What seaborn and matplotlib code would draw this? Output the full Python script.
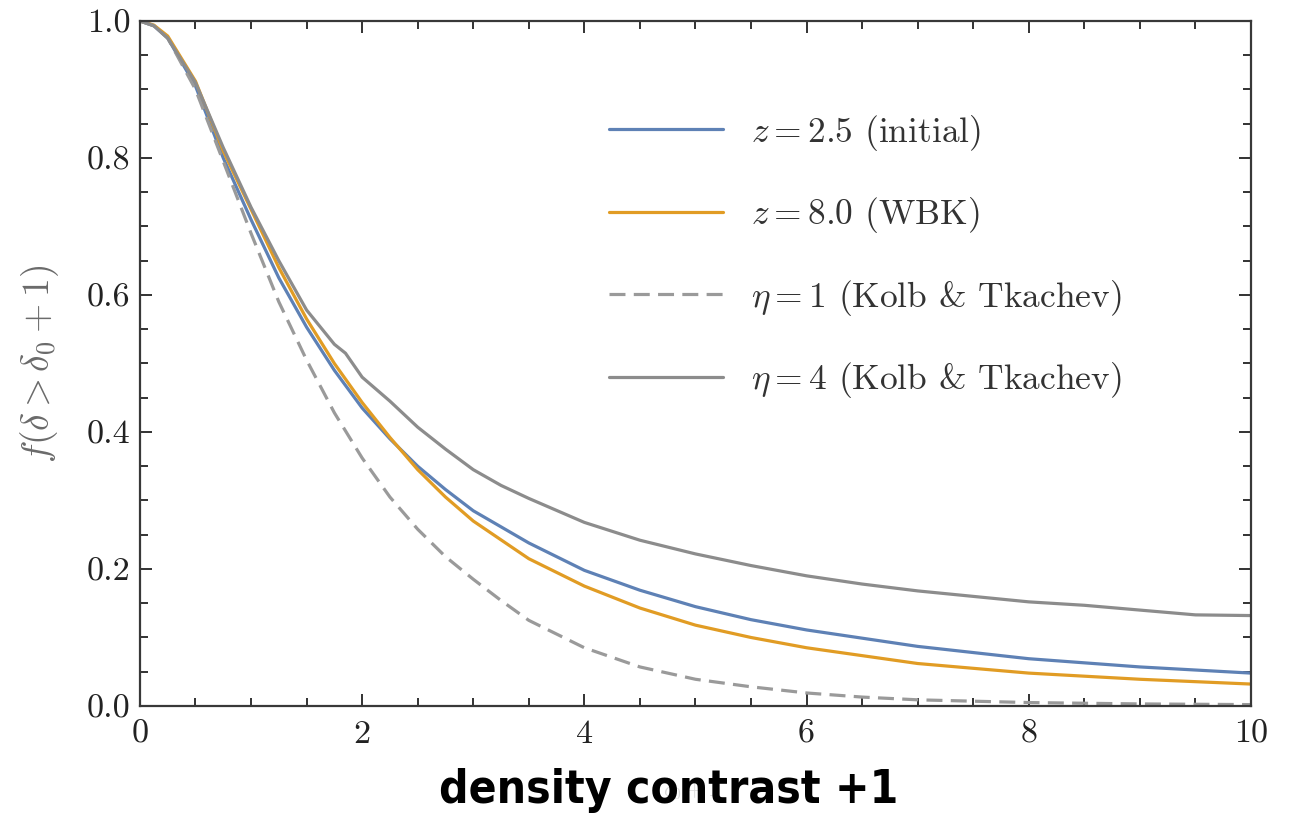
import pandas as pd
import seaborn as sns
import matplotlib.pyplot as plt
from matplotlib import font_manager
from matplotlib.ticker import MultipleLocator, FormatStrFormatter

# values
x_z25 = [0, 0.125, 0.25, 0.5, 0.75, 1.0, 1.25, 1.5, 1.75, 2.0, 2.25, 2.5, 2.75, 3.0, 3.5, 4.0, 4.5, 5.0, 5.5, 6.0, 7.0, 8.0, 9.0, 10.0]
f_z25 = [1.0, 0.993, 0.975, 0.905, 0.80, 0.71, 0.625, 0.553, 0.49, 0.435, 0.39, 0.35, 0.316, 0.285, 0.238, 0.198, 0.169, 0.145, 0.126, 0.111, 0.087, 0.069, 0.057, 0.048]

x_z80 = [0, 0.125, 0.25, 0.5, 0.75, 1.0, 1.25, 1.5, 1.75, 2.0, 2.25, 2.5, 2.75, 3.0, 3.5, 4.0, 4.5, 5.0, 5.5, 6.0, 7.0, 8.0, 9.0, 10.0]
f_z80 = [1.0, 0.994, 0.978, 0.912, 0.81, 0.725, 0.64, 0.565, 0.50, 0.443, 0.392, 0.345, 0.305, 0.27, 0.215, 0.175, 0.143, 0.118, 0.10, 0.085, 0.062, 0.048, 0.039, 0.032]

x_eta1 = [0, 0.125, 0.25, 0.5, 0.75, 1.0, 1.25, 1.5, 1.75, 2.0, 2.25, 2.5, 2.75, 3.0, 3.25, 3.5, 4.0, 4.5, 5.0, 5.5, 6.0, 6.5, 7.0, 8.0, 9.0, 10.0]
f_eta1 = [1.0, 0.993, 0.975, 0.90, 0.795, 0.69, 0.59, 0.505, 0.428, 0.362, 0.305, 0.258, 0.218, 0.185, 0.154, 0.125, 0.085, 0.057, 0.039, 0.028, 0.019, 0.013, 0.009, 0.005, 0.003, 0.002]

x_eta4 = [0, 0.125, 0.25, 0.5, 0.75, 1.0, 1.25, 1.5, 1.75, 1.85, 2.0, 2.25, 2.5, 2.75, 3.0, 3.25, 3.5, 4.0, 4.5, 5.0, 5.5, 6.0, 6.5, 7.0, 7.5, 8.0, 8.5, 9.0, 9.5, 10.0]
f_eta4 = [1.0, 0.993, 0.975, 0.91, 0.815, 0.728, 0.65, 0.578, 0.528, 0.515, 0.48, 0.445, 0.407, 0.375, 0.345, 0.322, 0.303, 0.268, 0.242, 0.222, 0.205, 0.19, 0.178, 0.168, 0.16, 0.152, 0.147, 0.14, 0.133, 0.132]

labels = [r'$z = 2.5$ (initial)', r'$z = 8.0$ (WBK)',
          r'$\eta = 1$ (Kolb & Tkachev)', r'$\eta = 4$ (Kolb & Tkachev)']
colors = ['#5e81b5', '#e19c24', '#9a9a9a', '#8c8c8c']

frames = []
for lab, xs, ys in zip(labels, [x_z25, x_z80, x_eta1, x_eta4], [f_z25, f_z80, f_eta1, f_eta4]):
    frames.append(pd.DataFrame({'x': xs, 'f': ys, 'series': lab}))
df = pd.concat(frames, ignore_index=True)

sns.set_theme(style='ticks')
plt.rcParams['font.family'] = ['cmr10', 'DejaVu Serif']
plt.rcParams['mathtext.fontset'] = 'cm'
plt.rcParams['axes.formatter.use_mathtext'] = True


def has_font(name):
    try:
        font_manager.findfont(font_manager.FontProperties(family=[name]), fallback_to_default=False)
        return True
    except Exception:
        return False


fig = plt.figure(figsize=(12.91, 8.26), dpi=100)
ax = fig.add_axes([0.1084, 0.1453, 0.8606, 0.8293])

sns.lineplot(data=df, x='x', y='f', hue='series', style='series',
             hue_order=labels, style_order=labels,
             palette=dict(zip(labels, colors)),
             dashes={labels[0]: '', labels[1]: '', labels[2]: (5, 2.6), labels[3]: ''},
             linewidth=2.3, ax=ax, legend=False)

ax.set_xlim(0, 10)
ax.set_ylim(0, 1)
ax.xaxis.set_major_locator(MultipleLocator(2))
ax.xaxis.set_minor_locator(MultipleLocator(0.5))
ax.yaxis.set_major_locator(MultipleLocator(0.2))
ax.yaxis.set_minor_locator(MultipleLocator(0.05))
ax.xaxis.set_major_formatter(FormatStrFormatter('%d'))
ax.yaxis.set_major_formatter(FormatStrFormatter('%.1f'))
ax.tick_params(which='both', direction='in', top=True, right=True, colors='#222222',
               labelsize=24.5, width=1.3)
ax.tick_params(which='major', length=8.5, pad=7)
ax.tick_params(which='minor', length=5.5)
ax.tick_params(axis='x', which='major', pad=10)
for sp in ax.spines.values():
    sp.set_color('#383838')
    sp.set_linewidth(1.6)

handles = [plt.Line2D([], [], color=c, lw=2.3) for c in colors]
handles[2].set_dashes((5, 2.6))
leg = ax.legend(handles, labels, loc='upper left', bbox_to_anchor=(0.4065, 0.892),
                frameon=False, fontsize=25.5, handlelength=3.2, handletextpad=0.8,
                labelspacing=1.2, borderpad=0)
for t in leg.get_texts():
    t.set_color('#333333')

ax.set_ylabel(r'$f(\delta > \delta_0 + 1)$', fontsize=27, color='#6a6a6a', labelpad=18)
ax.set_xlabel('')

# big bold caption pasted over the original axis label
if has_font('Liberation Sans Narrow'):
    cap_family, cap_size = ['Liberation Sans Narrow'], 44
elif has_font('DejaVu Sans Condensed'):
    cap_family, cap_size = ['DejaVu Sans Condensed'], 38
else:
    cap_family, cap_size = ['DejaVu Sans'], 33
fig.text(0.535, 0.043, r'$\delta_0 + 1$', fontsize=16, color='#d8d8d8', ha='center', va='center')
fig.text(0.518, 0.043, 'density contrast +1', fontsize=cap_size, fontweight='bold',
         family=cap_family, fontstretch='condensed', color='black',
         ha='center', va='center')

fig.savefig('out.png', dpi=100)
